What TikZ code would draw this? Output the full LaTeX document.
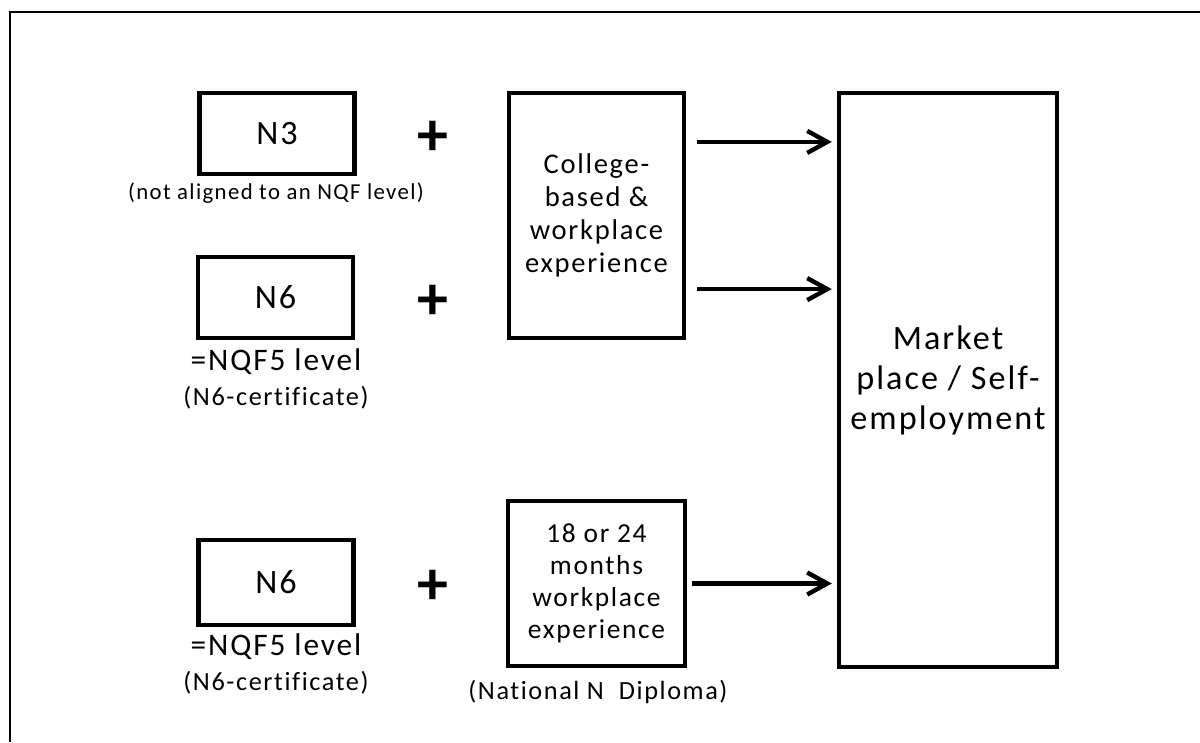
\documentclass[tikz,border=0pt]{standalone}
\usepackage{fontspec}
\setmainfont{Carlito}[LetterSpace=6, Ligatures=CommonOff]
\usetikzlibrary{arrows.meta, positioning}

\tikzset{
    lvlbox/.style={draw, line width=1.1mm, minimum width=38.75mm, minimum height=20.25mm, inner sep=0pt, font=\fontsize{24.3}{29}\selectfont},
    stagebox/.style={draw, line width=1.1mm, align=center, inner sep=0pt},
    levelnote/.style={font=\fontsize{22.3}{26.8}\selectfont},
    smallnote/.style={font=\fontsize{18.7}{22.4}\selectfont},
    plussign/.style={font=\fontsize{44}{52}\selectfont\bfseries},
    flow/.style={-{Straight Barb[length=5mm, width=5.5mm]}, line width=1.1mm, shorten >=1.25mm},
}

\begin{document}
\begin{tikzpicture}[x=0.25mm, y=-0.25mm]
    % Page and frame
    \useasboundingbox (0,0) rectangle (1200,742);
    \draw[line width=0.5mm] (10,742) -- (10,12) -- (1200,12);

    % Row 1: N3
    \node[lvlbox] (n3) at (277,133.5) {N3};
    \node[font=\fontsize{16.2}{19.4}\selectfont] (n3note) at (276,193) {(not aligned to an NQF level)};
    \node[plussign] (plus1) at (433,138) {+};

    % Row 2: N6
    \node[lvlbox] (n6a) at (275.5,297.5) {N6};
    \node[levelnote] (nqfa) at (276,362) {=NQF5 level};
    \node[smallnote] (certa) at (276,398) {(N6-certificate)};
    \node[plussign] (plus2) at (433,302) {+};

    % Row 3: N6 + diploma
    \node[lvlbox, minimum height=21.25mm] (n6b) at (276,582.5) {N6};
    \node[levelnote] (nqfb) at (276,647) {=NQF5 level};
    \node[smallnote] (certb) at (276,683) {(N6-certificate)};
    \node[plussign] (plus3) at (433,587) {+};

    % Experience boxes
    \node[stagebox, minimum width=43.75mm, minimum height=61.25mm, font=\fontsize{20.3}{23.5}\selectfont] (college) at (596.5,215.5) {College-\\based \&\\workplace\\experience};
    \node[stagebox, minimum width=44.25mm, minimum height=41.25mm, font=\fontsize{19.5}{22.8}\selectfont] (months) at (596.5,583.5) {18 or 24\\months\\workplace\\experience};
    \node[smallnote] (diploma) at (598,692) {(National N~~Diploma)};

    % Outcome
    \node[stagebox, minimum width=54.5mm, minimum height=143.5mm, font=\fontsize{24.3}{28.5}\selectfont] (market) at (948,380) {Market\\place / Self-\\employment};

    % Arrows
    \coordinate (c1) at ([xshift=2.75mm, yshift=18.4mm]college.east);
    \coordinate (c2) at ([xshift=2.75mm, yshift=-18.4mm]college.east);
    \coordinate (c3) at ([xshift=1.25mm]months.east);
    \draw[flow] (c1) -- (c1 -| market.west);
    \draw[flow] (c2) -- (c2 -| market.west);
    \draw[flow] (c3) -- (c3 -| market.west);
\end{tikzpicture}
\end{document}
